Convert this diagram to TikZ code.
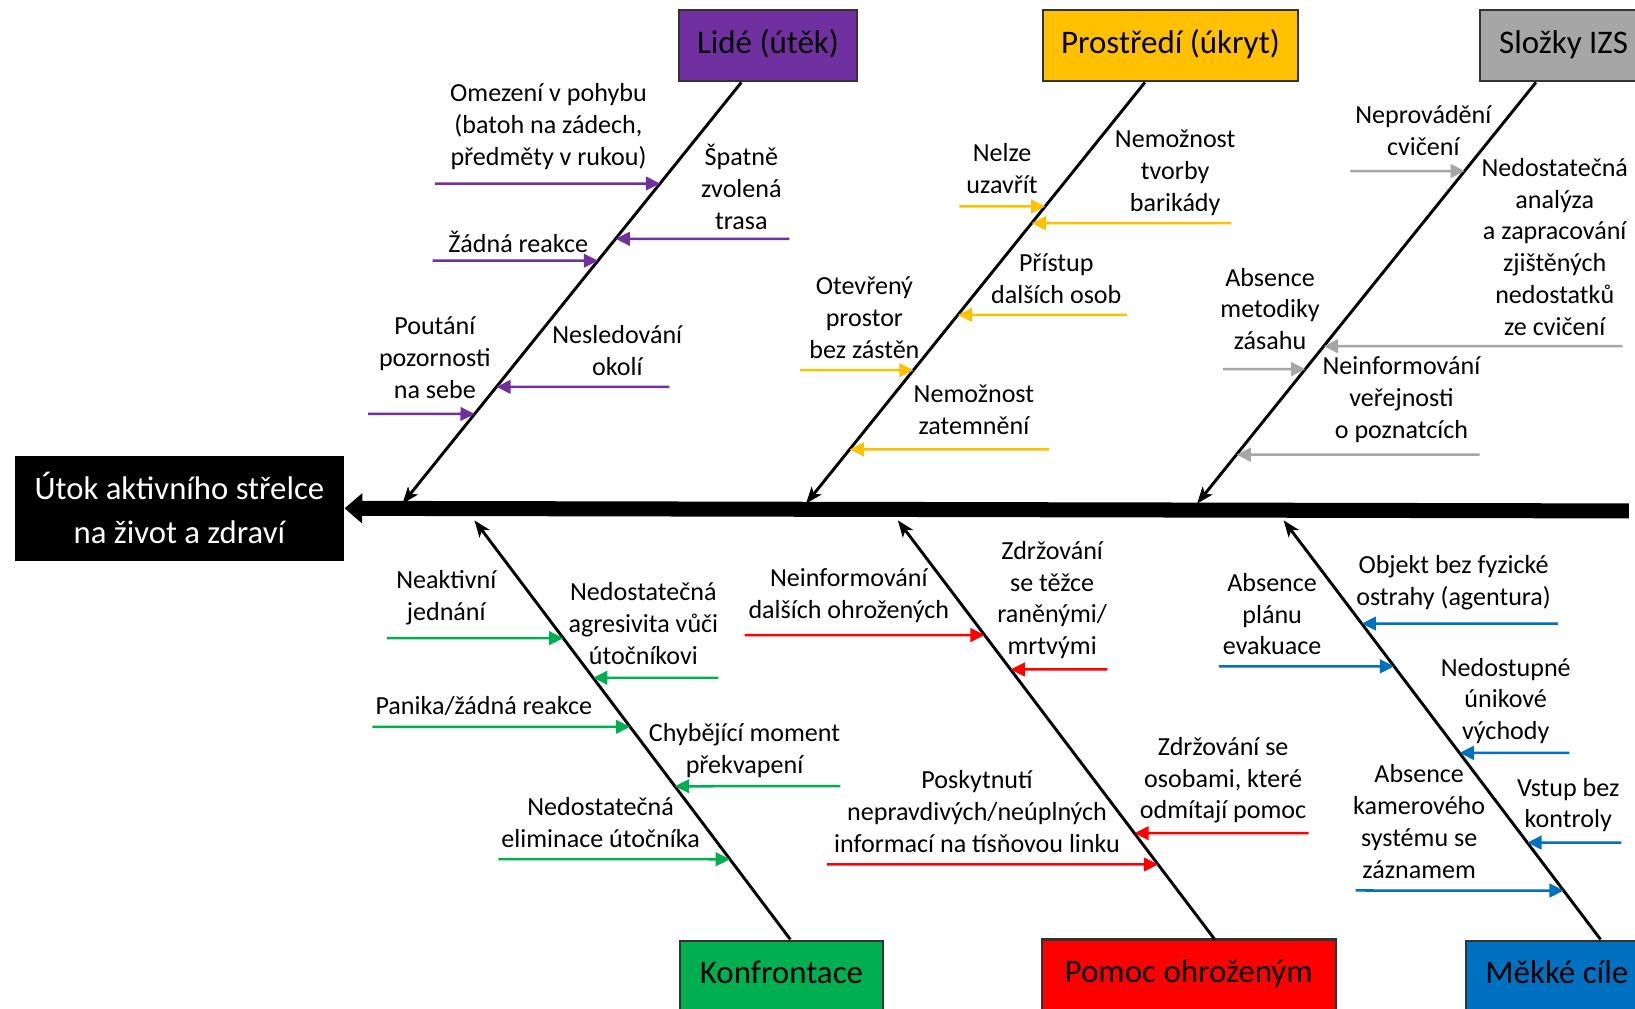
\documentclass[tikz,border=0pt]{standalone}
\usepackage{fontspec}
\setmainfont{Carlito}
\usetikzlibrary{arrows.meta}
\definecolor{cpurple}{HTML}{7030A0}
\definecolor{cyellow}{HTML}{FFC000}
\definecolor{cgray}{HTML}{A6A6A6}
\definecolor{cgreen}{HTML}{00B050}
\definecolor{cred}{HTML}{FF0000}
\definecolor{cblue}{HTML}{0070C0}
\newcommand\causearrow[4]{\path (#4) coordinate (#3) ++(10,0) coordinate (#3h);
  \draw[ca,#1] (#3) -- (intersection of #3--#3h and #2s--#2e);}
\begin{document}
\begin{tikzpicture}[x=0.5pt,y=-0.5pt,
  cat/.style={draw=black!80, line width=1pt, minimum height=34pt, inner sep=0pt,
    text height=12pt, text depth=5pt, font=\fontsize{15.8}{19}\selectfont},
  lbl/.style={align=center, inner sep=0pt, yshift=-1pt, font=\fontsize{12.5}{15.25}\selectfont},
  bone/.style={line width=1.4pt, -{Stealth[length=8pt,width=6pt,inset=2pt]}},
  ca/.style={line width=1.2pt, -{Triangle[length=6.8pt,width=6.5pt]}},
  spine/.style={line width=7.2pt, -{Triangle[length=8.5pt,width=14pt]}}]
\clip (0,0) rectangle (1568,967);
\fill[white] (0,0) rectangle (1568,967);

% head
\node[fill=black, minimum width=158pt, minimum height=50.5pt, inner sep=0pt, align=center,
      text=white, font=\fontsize{15.7}{21}\selectfont] (head) at (172,487.5)
      {Útok aktivního střelce\\na život a zdraví};
\coordinate (spR) at (1562,490);
\draw[spine] (spR) -- (head.east);

% category boxes
\node[cat, fill=cpurple, minimum width=85.5pt] (lide) at (736.5,44) {Lidé (útěk)};
\node[cat, fill=cyellow, minimum width=122.5pt] (prost) at (1122.5,44) {Prostředí (úkryt)};
\node[cat, fill=cgray, minimum width=80.5pt] (izs) at (1499.5,44) {Složky IZS};
\node[cat, fill=cgreen, minimum width=97.5pt] (konf) at (749.5,936) {Konfrontace};
\node[cat, fill=cred, minimum width=141pt] (pomoc) at (1140,935) {Pomoc ohroženým};
\node[cat, fill=cblue, minimum width=87pt] (mekke) at (1493,936) {Měkké cíle};

% bones
\coordinate (b1s) at (711,79);   \coordinate (b1e) at (386,483);
\coordinate (b2s) at (1098,79);  \coordinate (b2e) at (773,483);
\coordinate (b3s) at (1473,79);  \coordinate (b3e) at (1148,483);
\coordinate (b4s) at (758,901);  \coordinate (b4e) at (455,499);
\coordinate (b5s) at (1165,901); \coordinate (b5e) at (861,499);
\coordinate (b6s) at (1535,901); \coordinate (b6e) at (1231,499);
\foreach \i in {1,...,6} {\draw[bone] (b\i s) -- (b\i e);}

% Lidé
\node[lbl] (t11) at (526,119.3) {Omezení v pohybu\\(batoh na zádech,\\předměty v rukou)};
\node[lbl] (t12) at (711,177.5) {Špatně\\zvolená\\trasa};
\node[lbl] (t13) at (497,230) {Žádná reakce};
\node[lbl] (t14) at (417,341) {Poutání\\pozornosti\\na sebe};
\node[lbl] (t15) at (592,334.5) {Nesledování\\okolí};
\causearrow{cpurple}{b1}{a11}{417,176}
\causearrow{cpurple}{b1}{a12}{757,229}
\causearrow{cpurple}{b1}{a13}{415,250}
\causearrow{cpurple}{b1}{a14}{353,397}
\causearrow{cpurple}{b1}{a15}{642,371}

% Prostředí
\node[lbl] (t21) at (961,160) {Nelze\\uzavřít};
\node[lbl] (t22) at (1127,164) {Nemožnost\\tvorby\\barikády};
\node[lbl] (t23) at (1013,265) {Přístup\\dalších osob};
\node[lbl] (t24) at (829,302.5) {Otevřený\\prostor\\bez zástěn};
\node[lbl] (t25) at (934,391) {Nemožnost\\zatemnění};
\causearrow{cyellow}{b2}{a21}{920,198}
\causearrow{cyellow}{b2}{a22}{1181,214}
\causearrow{cyellow}{b2}{a23}{1081,302}
\causearrow{cyellow}{b2}{a24}{767,355}
\causearrow{cyellow}{b2}{a25}{1006,431}

% Složky IZS
\node[lbl] (t31) at (1365,123) {Neprovádění\\cvičení};
\node[lbl] (t32) at (1491,234.7) {Nedostatečná\\analýza\\a zapracování\\zjištěných\\nedostatků\\ze cvičení};
\node[lbl] (t33) at (1218,294.3) {Absence\\metodiky\\zásahu};
\node[lbl] (t34) at (1344,381.3) {Neinformování\\veřejnosti\\o poznatcích};
\causearrow{cgray}{b3}{a31}{1295,164}
\causearrow{cgray}{b3}{a32}{1556,332}
\causearrow{cgray}{b3}{a33}{1173,354}
\causearrow{cgray}{b3}{a34}{1419,436}

% Konfrontace
\node[lbl] (t41) at (428,571) {Neaktivní\\jednání};
\node[lbl] (t42) at (617,596) {Nedostatečná\\agresivita vůči\\útočníkovi};
\node[lbl] (t43) at (464,675) {Panika/žádná reakce};
\node[lbl] (t44) at (714,717.5) {Chybějící moment\\překvapení};
\node[lbl] (t45) at (576,787) {Nedostatečná\\eliminace útočníka};
\causearrow{cgreen}{b4}{a41}{371,612}
\causearrow{cgreen}{b4}{a42}{689,650}
\causearrow{cgreen}{b4}{a43}{357,697}
\causearrow{cgreen}{b4}{a44}{806,754}
\causearrow{cgreen}{b4}{a45}{478,824}

% Pomoc ohroženým
\node[lbl] (t51) at (814,569) {Neinformování\\dalších ohrožených};
\node[lbl] (t52) at (1009,573.5) {Zdržování\\se těžce\\raněnými/\\mrtvými};
\node[lbl] (t53) at (937,776) {Poskytnutí\\nepravdivých/neúplných\\informací na tísňovou linku};
\node[lbl] (t54) at (1173,746.3) {Zdržování se\\osobami, které\\odmítají pomoc};
\causearrow{cred}{b5}{a51}{714,609}
\causearrow{cred}{b5}{a52}{1062,642}
\causearrow{cred}{b5}{a53}{793,829}
\causearrow{cred}{b5}{a54}{1255,799}

% Měkké cíle
\node[lbl] (t61) at (1394,557) {Objekt bez fyzické\\ostrahy (agentura)};
\node[lbl] (t62) at (1220,587) {Absence\\plánu\\evakuace};
\node[lbl] (t63) at (1444,670.3) {Nedostupné\\únikové\\východy};
\node[lbl] (t64) at (1361,786) {Absence\\kamerového\\systému se\\záznamem};
\node[lbl] (t65) at (1504,770) {Vstup bez\\kontroly};
\causearrow{cblue}{b6}{a61}{1494,598}
\causearrow{cblue}{b6}{a62}{1169,639}
\causearrow{cblue}{b6}{a63}{1505,722}
\causearrow{cblue}{b6}{a64}{1300,854}
\causearrow{cblue}{b6}{a65}{1555,808}
\end{tikzpicture}
\end{document}
